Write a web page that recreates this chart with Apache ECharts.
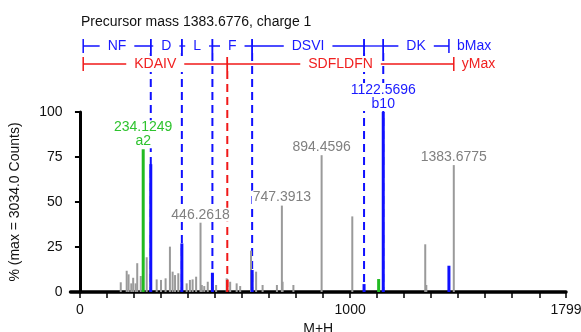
<!DOCTYPE html>
<html><head><meta charset="utf-8">
<script src="https://cdn.jsdelivr.net/npm/echarts@6/dist/echarts.min.js"></script>
<style>html,body{margin:0;padding:0;background:#fff}#c{width:581px;height:332px}</style>
</head><body><div id="c"></div>
<script>
// ---- data ----
const titleText = 'Precursor mass 1383.6776, charge 1';
const bIonMz = [12, 262.12, 377.15, 490.23, 637.30, 1051.52, 1122.57, 1365.68];
const bIonSeq = ['NF', 'D', 'L', 'F', 'DSVI', '', 'DK'];
const yIonMz = [12, 545.33, 1383.68];
const yIonSeq = ['KDAIV', 'SDFLDFN'];
const blueDashMz = [262.12, 377.15, 490.23, 637.30, 1051.52, 1122.57];
const redDashMz = [545.33];

const grayMz = [151, 173, 180, 190, 197, 206, 212, 225, 247, 284, 300, 317, 333, 343, 352, 364, 395, 407, 417, 430, 446.26, 451, 460, 473, 504, 543, 556, 580, 593, 633, 652, 676, 729, 747.39, 750, 790, 894.46, 1008, 1278, 1282, 1383.68];
const grayInt = [5.4, 11.8, 9.8, 4.8, 7.9, 4.8, 16, 8.9, 19.3, 7, 6.7, 7.6, 25.2, 11.3, 9.4, 10.4, 4.8, 6.7, 7, 8.5, 38.5, 3.9, 3.3, 5.7, 3.9, 7.6, 5.7, 4.8, 3.3, 23, 11.3, 3.9, 3.9, 48, 5.7, 3.9, 76, 42, 26.5, 3.9, 70.5];
const blueMz = [262.12, 377.15, 490.23, 637.30, 1051.52, 1122.57, 1365.68];
const blueInt = [71, 27, 10.7, 12.2, 4.4, 100, 14.6];
const greenMz = [234.12, 1105.54];
const greenInt = [79.3, 7.2];
const redMz = [545.33];
const redInt = [6.7];

const labelMz = [234.12, 446.26, 747.39, 894.46, 1122.57, 1383.68];
const labelInt = [79.3, 38.5, 48, 76, 100, 70.5];
const labelText = ['234.1249\na2', '446.2618', '747.3913', '894.4596', '1122.5696\nb10', '1383.6775'];
const labelKind = ['green', 'gray', 'gray', 'gray', 'blue', 'gray'];

const xTicks = [0, 100, 200, 300, 400, 500, 600, 700, 800, 900, 1000, 1100, 1200, 1300, 1400, 1500, 1600, 1700, 1799];
const xTickLabels = [0, 1000, 1799];

// ---- styles ----
const FONT = '"Liberation Sans", Arial, Helvetica, sans-serif';
const COL = { gray: '#9a9a9a', blue: '#1010ff', green: '#22bb22', red: '#f01818' };
const TXT = { gray: '#808080', blue: '#1a1aff', green: '#2ec32e', red: '#f02020' };
const ROW_B_Y = 46, ROW_Y_Y = 64;

function peakSeries(mz, it, color, w) {
  return {
    type: 'custom', z: 3, clip: false,
    data: mz.map((m, i) => [m, it[i]]),
    renderItem(params, api) {
      const p0 = api.coord([api.value(0), 0]);
      const p1 = api.coord([api.value(0), api.value(1)]);
      return { type: 'rect', shape: { x: p0[0] - w / 2, y: p1[1], width: w, height: p0[1] - p1[1] }, style: { fill: color } };
    }
  };
}

function dashSeries(mz, color, topY) {
  return {
    type: 'custom', z: 2, clip: false,
    data: mz.map(m => [m, 0]),
    renderItem(params, api) {
      const p0 = api.coord([api.value(0), 0]);
      return { type: 'line', shape: { x1: p0[0], y1: topY, x2: p0[0], y2: p0[1] },
        style: { stroke: color, lineWidth: 2, lineDash: [8, 5] } };
    }
  };
}

function rowSeries(marks, seq, color, tcolor, y, endText) {
  const data = [];
  for (let i = 0; i < seq.length; i++) data.push([marks[i], marks[i + 1], i]);
  return {
    type: 'custom', z: 4, clip: false,
    data,
    renderItem(params, api) {
      const a = api.coord([api.value(0), 0])[0];
      const b = api.coord([api.value(1), 0])[0];
      const i = api.value(2);
      const ch = [
        { type: 'line', z2: 1, shape: { x1: a, y1: y, x2: b, y2: y }, style: { stroke: color, lineWidth: 1.3 } },
        { type: 'line', z2: 1, shape: { x1: a, y1: y - 7, x2: a, y2: y + 7 }, style: { stroke: color, lineWidth: 1.5 } },
        { type: 'line', z2: 1, shape: { x1: b, y1: y - 7, x2: b, y2: y + 7 }, style: { stroke: color, lineWidth: 1.5 } }
      ];
      if (seq[i]) ch.push({ type: 'text', z2: 5, x: (a + b) / 2, y: y,
        style: { text: seq[i], fill: tcolor, font: '14px ' + FONT, align: 'center', verticalAlign: 'middle',
          backgroundColor: '#fff', padding: [1, 8] } });
      if (i === seq.length - 1) ch.push({ type: 'text', z2: 5, x: b + 8, y: y,
        style: { text: endText, fill: tcolor, font: '14px ' + FONT, align: 'left', verticalAlign: 'middle' } });
      return { type: 'group', children: ch };
    }
  };
}

const labelSeries = {
  type: 'custom', z: 5, clip: false,
  data: labelMz.map((m, i) => [m, labelInt[i], i]),
  renderItem(params, api) {
    const p = api.coord([api.value(0), api.value(1)]);
    const i = api.value(2);
    return { type: 'text', x: p[0], y: p[1] - 1,
      style: { text: labelText[i], fill: TXT[labelKind[i]], font: '14px ' + FONT, align: 'center',
        verticalAlign: 'bottom', lineHeight: 14, backgroundColor: '#fff', padding: [0, 1] } };
  }
};

const chart = echarts.init(document.getElementById('c'), null, { renderer: 'canvas' });
chart.setOption({
  animation: false,
  backgroundColor: '#fff',
  title: { text: titleText, left: 81, top: 15, padding: 0,
    textStyle: { fontSize: 14, fontWeight: 'normal', color: '#111', fontFamily: FONT } },
  grid: { left: 70.5, right: 15, top: 112, bottom: 40, containLabel: false, outerBoundsMode: 'none' },
  xAxis: {
    type: 'value', min: -35, max: 1799,
    name: 'M+H', nameLocation: 'middle', nameGap: 22,
    nameTextStyle: { fontSize: 14, color: '#111', fontFamily: FONT },
    axisLine: { lineStyle: { color: '#000', width: 3.5 } },
    axisTick: { customValues: xTicks, length: 6, lineStyle: { color: '#000', width: 1.5 } },
    axisLabel: { customValues: xTickLabels, fontSize: 14, color: '#111', fontFamily: FONT, margin: 11,
      formatter: v => String(v), showMinLabel: true, showMaxLabel: true, hideOverlap: false },
    splitLine: { show: false }
  },
  yAxis: {
    type: 'value', min: 0, max: 100, interval: 25, offset: -7,
    name: '% (max = 3034.0 Counts)', nameLocation: 'middle', nameGap: 55, nameRotate: 90,
    nameTextStyle: { fontSize: 14, color: '#111', fontFamily: FONT },
    axisLine: { show: true, lineStyle: { color: '#000', width: 3 } },
    axisTick: { show: true, length: 5, lineStyle: { color: '#000', width: 2 } },
    axisLabel: { fontSize: 14, color: '#111', fontFamily: FONT, margin: 15 },
    splitLine: { show: false }
  },
  series: [
    dashSeries(blueDashMz, COL.blue, ROW_B_Y + 7),
    dashSeries(redDashMz, COL.red, ROW_Y_Y + 7),
    peakSeries(grayMz, grayInt, COL.gray, 2),
    peakSeries(redMz, redInt, COL.red, 2.5),
    peakSeries(greenMz, greenInt, COL.green, 3),
    peakSeries(blueMz, blueInt, COL.blue, 3),
    rowSeries(yIonMz, yIonSeq, COL.red, TXT.red, ROW_Y_Y, 'yMax'),
    rowSeries(bIonMz, bIonSeq, COL.blue, TXT.blue, ROW_B_Y, 'bMax'),
    labelSeries
  ]
});
</script></body></html>
